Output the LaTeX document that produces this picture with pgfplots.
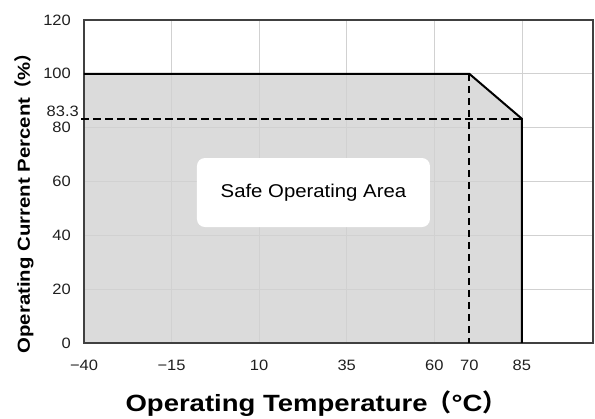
\documentclass[border=0pt]{standalone}
\usepackage{fontspec}
\setmainfont{Liberation Sans}[FakeStretch=1.1, BoldFont={Liberation Sans Bold}, BoldFeatures={FakeStretch=1.17}]
\newfontfamily\cjk{Noto Sans CJK SC}
\usepackage{pgfplots}
\pgfplotsset{compat=1.18}
\begin{document}
\begin{tikzpicture}
\begin{axis}[
  at={(0pt,0pt)}, anchor=south west,
  scale only axis, width=509pt, height=323pt,
  set layers,
  xmin=-40, xmax=105.3, ymin=0, ymax=120,
  xtick={-40,-15,10,35,60,85},
  xticklabels={−40,−15,10,35,60,85},
  extra x ticks={70}, extra x tick labels={70},
  extra x tick style={grid=none},
  ytick={0,20,40,60,80,100,120},
  major tick length=0pt,
  grid=major,
  major grid style={draw=black!18, line width=0.7pt},
  axis line style={draw=black!75, line width=1.3pt},
  tick label style={font=\fontsize{15}{15}\selectfont, text=black!88},
  /pgf/number format/assume math mode=true,
  xticklabel style={anchor=base, yshift=-28pt, inner sep=0pt},
  yticklabel style={anchor=east, xshift=-13pt, inner sep=0pt},
  clip=false,
  xlabel={Operating Temperature{\cjk\bfseries\fontsize{24}{24}\selectfont（}°C{\cjk\bfseries\fontsize{24}{24}\selectfont）}},
  xlabel style={at={(axis description cs:0.4558,-0.2136)}, anchor=base,
    font=\bfseries\fontsize{23.5}{23.5}\selectfont, inner sep=0pt},
  ylabel={Operating Current Percent{\cjk\bfseries\fontsize{17.4}{17.4}\selectfont（}\%{\cjk\bfseries\fontsize{17.4}{17.4}\selectfont）}},
  ylabel style={at={(axis description cs:-0.1061,0.4458)}, anchor=base, rotate=0,
    font=\bfseries\fontsize{17.4}{17.4}\selectfont, inner sep=0pt},
]
\addplot[fill=black!14, draw=none, on layer=axis background]
  coordinates {(-40,100) (70,100) (85,83.3)} \closedcycle;
\addplot[black, line width=2pt] coordinates {(-40,100) (70,100) (85,83.3) (85,0)};
\addplot[black, line width=2.3pt, dash pattern=on 7.5pt off 4.5pt] coordinates {(-40.8,83.3) (85,83.3)};
\addplot[black, line width=2.3pt, dash pattern=on 7.5pt off 4.5pt] coordinates {(70,100) (70,0)};
\node[fill=white, rounded corners=8pt, minimum width=233pt, minimum height=69pt,
  font=\fontsize{18.5}{18.5}\selectfont] at (axis cs:25.5,55.9) {Safe Operating Area};
\node[anchor=east, inner sep=0pt, font=\fontsize{15}{15}\selectfont, text=black!88]
  at (axis cs:-40,83.3) [xshift=-5pt, yshift=7pt] {83.3};
\end{axis}
\pgfresetboundingbox
\path[use as bounding box] (-84pt,-76pt) rectangle (511pt,343pt);
\end{tikzpicture}
\end{document}
